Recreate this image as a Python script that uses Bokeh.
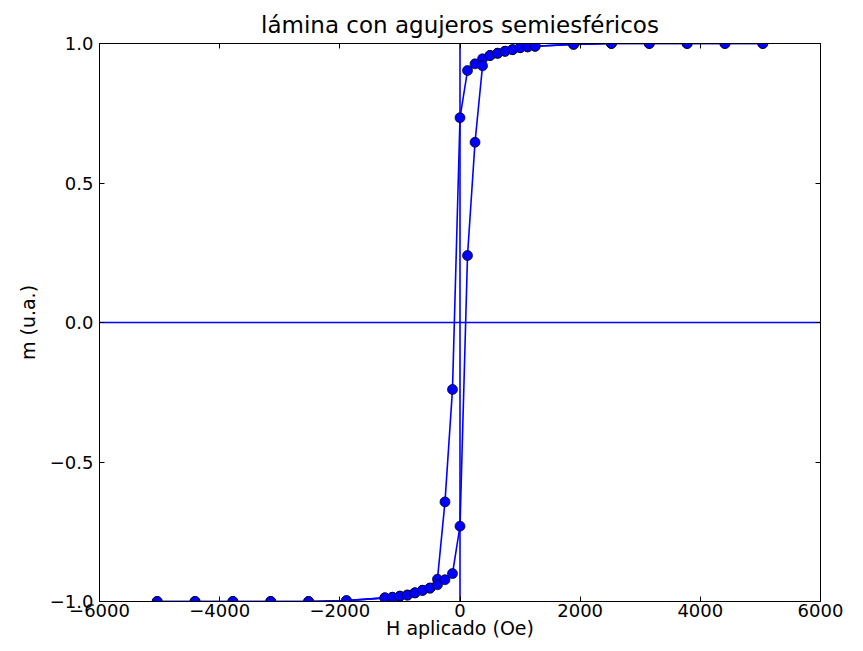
from bokeh.plotting import figure
from bokeh.models import Range1d, LinearAxis, Span, FixedTicker, CustomJSTickFormatter
from bokeh.embed import file_html
from bokeh.resources import INLINE

# ---- data ----
H_desc = [5040, 4410, 3780, 3150, 2520, 1890, 1250, 1125, 1000, 875, 750, 625, 500, 375, 250, 125, 0,
          -125, -250, -375, -500, -625, -750, -875, -1000, -1125, -1250, -1890, -2520, -3150, -3780, -4410, -5040]
m_desc = [1.0, 1.0, 1.0, 1.0, 1.0, 0.997, 0.990, 0.988, 0.985, 0.978, 0.972, 0.965, 0.957, 0.945, 0.927, 0.903, 0.734,
          -0.240, -0.643, -0.920, -0.952, -0.960, -0.969, -0.977, -0.981, -0.985, -0.987, -0.997, -1.0, -1.0, -1.0, -1.0, -1.0]

H_asc = [-5040, -4410, -3780, -3150, -2520, -1890, -1250, -1125, -1000, -875, -750, -625, -500, -375, -250, -125, 0,
         125, 250, 375, 500, 625, 750, 875, 1000, 1125, 1250, 1890, 2520, 3150, 3780, 4410, 5040]
m_asc = [-1.0, -1.0, -1.0, -1.0, -1.0, -0.997, -0.987, -0.985, -0.981, -0.977, -0.969, -0.960, -0.952, -0.940, -0.922, -0.900, -0.730,
         0.240, 0.646, 0.920, 0.957, 0.965, 0.972, 0.978, 0.985, 0.988, 0.990, 0.997, 1.0, 1.0, 1.0, 1.0, 1.0]

x_ticks = [-6000, -4000, -2000, 0, 2000, 4000, 6000]
y_ticks = [-1.0, -0.5, 0.0, 0.5, 1.0]
title_text = "lámina con agujeros semiesféricos"
x_label = "H aplicado (Oe)"
y_label = "m (u.a.)"

FONT = "DejaVu Sans"
BLUE = "#0000ff"

p = figure(width=855, height=643, min_border_left=99, min_border_right=35,
           min_border_top=43, min_border_bottom=42,
           x_range=Range1d(-6000, 6000), y_range=Range1d(-1, 1),
           output_backend="svg", toolbar_location=None, title=title_text)

p.title.text_font = FONT
p.title.text_font_size = "23px"
p.title.text_font_style = "normal"
p.title.align = "center"
p.title.standoff = 12
p.title.text_color = "black"

p.xgrid.visible = False
p.ygrid.visible = False
p.outline_line_color = "black"
p.outline_line_width = 1
p.background_fill_color = "white"
p.border_fill_color = "white"

xfmt = CustomJSTickFormatter(code="return (tick < 0 ? '\u2212' : '') + Math.abs(tick).toFixed(0);")
yfmt = CustomJSTickFormatter(code="return (tick < 0 ? '\u2212' : '') + Math.abs(tick).toFixed(1);")
blank = CustomJSTickFormatter(code="return '';")

def style_axis(ax, ticks, fmt):
    ax.ticker = FixedTicker(ticks=ticks)
    ax.formatter = fmt
    ax.major_tick_in = 5
    ax.major_tick_out = 0
    ax.minor_tick_in = 0
    ax.minor_tick_out = 0
    ax.axis_line_color = "black"
    ax.major_tick_line_color = "black"
    ax.major_label_text_font = FONT
    ax.major_label_text_color = "black"
    ax.major_label_text_font_size = "18px"
    ax.axis_label_text_font = FONT
    ax.axis_label_text_font_style = "normal"
    ax.axis_label_text_color = "black"
    ax.axis_label_text_font_size = "19px"

xa = p.xaxis[0]
ya = p.yaxis[0]
style_axis(xa, x_ticks, xfmt)
style_axis(ya, y_ticks, yfmt)
xa.axis_label = x_label
ya.axis_label = y_label
xa.major_label_standoff = 2
xa.axis_label_standoff = -3
ya.major_label_standoff = 6
ya.axis_label_standoff = 8

top = LinearAxis()
style_axis(top, x_ticks, blank)
top.major_label_standoff = 0
p.add_layout(top, "above")
right = LinearAxis()
style_axis(right, y_ticks, blank)
right.major_label_standoff = 0
p.add_layout(right, "right")

p.add_layout(Span(location=0, dimension="width", line_color=BLUE, line_width=1.6, level="underlay"))
p.add_layout(Span(location=0, dimension="height", line_color=BLUE, line_width=1.6, level="underlay"))

for H, m in ((H_desc, m_desc), (H_asc, m_asc)):
    p.line(H, m, line_color=BLUE, line_width=1.6)
    p.scatter(H, m, size=10, fill_color=BLUE, line_color="black", line_width=0.7)

open("out.html", "w").write(file_html(p, INLINE))
